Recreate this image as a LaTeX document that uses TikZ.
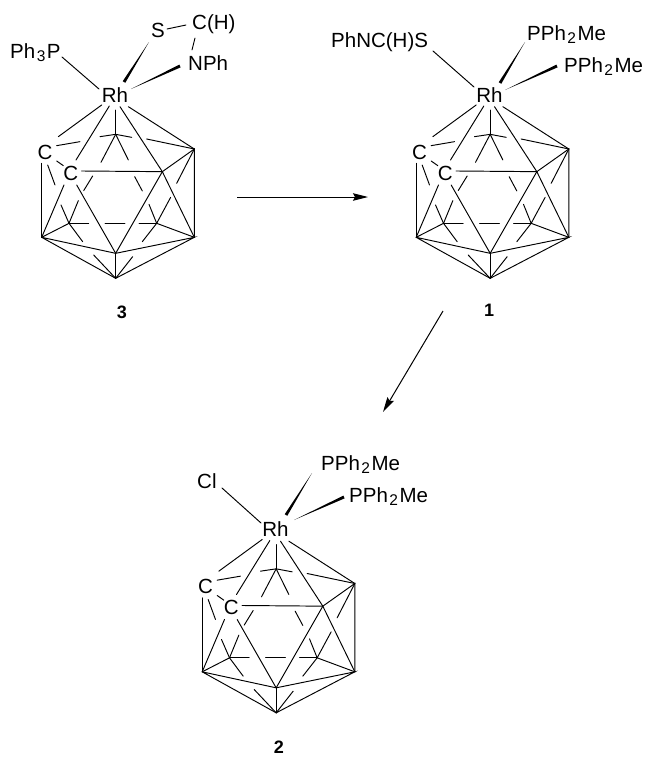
\documentclass[tikz,border=0pt]{standalone}
\usepackage{fontspec}
\setmainfont{Liberation Sans}
\usetikzlibrary{calc,arrows.meta}
\newcommand{\subn}[1]{\kern1.5pt\raisebox{-3.5pt}{\fontsize{15.5}{15}\selectfont #1}\kern1.5pt}
\tikzset{
  lab/.style={inner sep=0pt,font=\fontsize{20.5}{23}\selectfont,anchor=base west},
  clab/.style={inner sep=0pt,font=\fontsize{20.5}{23}\selectfont},
  num/.style={inner sep=0pt,font=\fontsize{18}{20}\selectfont\bfseries},
  bond/.style={line width=0.95pt,line cap=round},
  rxn/.style={line width=1pt,-{Stealth[length=15pt,width=7.5pt,inset=2pt]}},
  cage/.pic={
    \begin{scope}[x=0.3333pt,y=-0.3333pt,shift={(-345,-285)}]
      \coordinate (RT) at (583,447);
      \coordinate (RB) at (583,712);
      \coordinate (LB) at (125,712);
      \coordinate (BF) at (347,760);
      \coordinate (BT) at (347,835);
      \coordinate (FR) at (487,515);
      \coordinate (BK) at (347,403);
      \coordinate (BL) at (207,670);
      \coordinate (BR) at (470,670);
      \node[clab] (-ca) at (135,457) {C};
      \node[clab] (-cb) at (212,520) {C};
      \begin{scope}[bond]
        % metal to cage
        \draw (305,315) -- (175,410);
        \draw (328,318) -- (228,480);
        \draw (347,330) -- (BK);
        \draw (360,320) -- (FR) -- (RB);
        \draw (385,320) -- (RT);
        % upper belt
        \draw (170,437) -- (240,425);
        \draw (300,410) -- (BK) -- (395,412);
        \draw (440,417) -- (RT);
        \draw (BK) -- (303,487);
        \draw (BK) -- (385,480);
        % C-C and front
        \draw (170,483) -- (190,497);
        \draw (245,513) -- (FR);
        \draw (125,490) -- (LB);
        \draw (143,495) -- (165,555);
        \draw (192,555) -- (LB);
        \draw (230,555) -- (BF);
        \draw (FR) -- (BF);
        \draw (FR) -- (RT) -- (RB);
        % hidden right
        \draw (RT) -- (530,550);
        \draw (512,592) -- (BR) -- (427,725);
        \draw (404,530) -- (427,573);
        \draw (447,613) -- (BR);
        \draw (BR) -- (RB);
        % hidden left
        \draw (278,528) -- (251,572);
        \draw (235,602) -- (BL) -- (LB);
        \draw (183,615) -- (BL) -- (248,725);
        \draw (BL) -- (266,670);
        \draw (315,670) -- (375,670);
        \draw (417,670) -- (BR);
        % bottom
        \draw (LB) -- (BF) -- (RB) -- (BT) -- (LB);
        \draw (BF) -- (BT);
        \draw (281,765) -- (BT) -- (398,770);
      \end{scope}
    \end{scope}
  }
}
\newcommand{\wdg}[2]{\fill (#1) -- ($(#2)!1.5pt!90:(#1)$) -- ($(#2)!1.5pt!-90:(#1)$) -- cycle;}
\begin{document}
\begin{tikzpicture}[x=1pt,y=-1pt]
\useasboundingbox (0,0) rectangle (646,758);
\fill[white] (0,0) rectangle (646,758);
% complex 3
\pic (c3) at (115,95) {cage};
\node[clab] (rh3) at (115,95) {Rh};
\node[lab] (pp3) at (10,58) {Ph\subn{3}P};
\node[lab] (s3) at (151,37) {S};
\node[lab] (ch3) at (192,29) {C(H)};
\node[lab] (np3) at (188,70) {NPh};
\node[num] (n3) at (122,312) {3};
\coordinate (a1) at (62,57); \coordinate (a2) at (99,89);
\draw[bond] (a1) -- (a2);
\coordinate (a3) at (149,42); \coordinate (a4) at (124,82);
\wdg{a3}{a4}
\coordinate (a5) at (131,89); \coordinate (a6) at (180,66);
\wdg{a5}{a6}
\coordinate (a7) at (167,29); \coordinate (a8) at (186,25);
\draw[bond] (a7) -- (a8);
\coordinate (a9) at (195,38); \coordinate (a10) at (192,50);
\draw[bond] (a9) -- (a10);
% complex 1
\pic (c1) at (489.5,95) {cage};
\node[clab] (rh1) at (489.5,95) {Rh};
\node[lab] (l1) at (331,47) {PhNC(H)S};
\node[lab] (p1a) at (527,40) {PPh\subn{2}Me};
\node[lab] (p1b) at (564,72) {PPh\subn{2}Me};
\node[num] (n1) at (489,310) {1};
\coordinate (b1) at (433,51); \coordinate (b2) at (474,87);
\draw[bond] (b1) -- (b2);
\coordinate (b3) at (525,42); \coordinate (b4) at (500,83);
\wdg{b3}{b4}
\coordinate (b5) at (505,90); \coordinate (b6) at (557,66);
\wdg{b5}{b6}
% complex 2
\pic (c2) at (275.5,529.5) {cage};
\node[clab] (rh2) at (275.5,529.5) {Rh};
\node[lab] (cl2) at (197,488) {Cl};
\node[lab] (p2a) at (321,470) {PPh\subn{2}Me};
\node[lab] (p2b) at (349,502) {PPh\subn{2}Me};
\node[num] (n2) at (279,747) {2};
\coordinate (d1) at (222,488); \coordinate (d2) at (261,523);
\draw[bond] (d1) -- (d2);
\coordinate (d3) at (312,473); \coordinate (d4) at (286,515);
\wdg{d3}{d4}
\coordinate (d5) at (294,520); \coordinate (d6) at (344,497);
\wdg{d5}{d6}
% reaction arrows
\coordinate (r1) at (237,197); \coordinate (r2) at (368,197);
\draw[rxn] (r1) -- (r2);
\coordinate (r3) at (443,311); \coordinate (r4) at (383,412);
\draw[rxn] (r3) -- (r4);
\end{tikzpicture}
\end{document}
